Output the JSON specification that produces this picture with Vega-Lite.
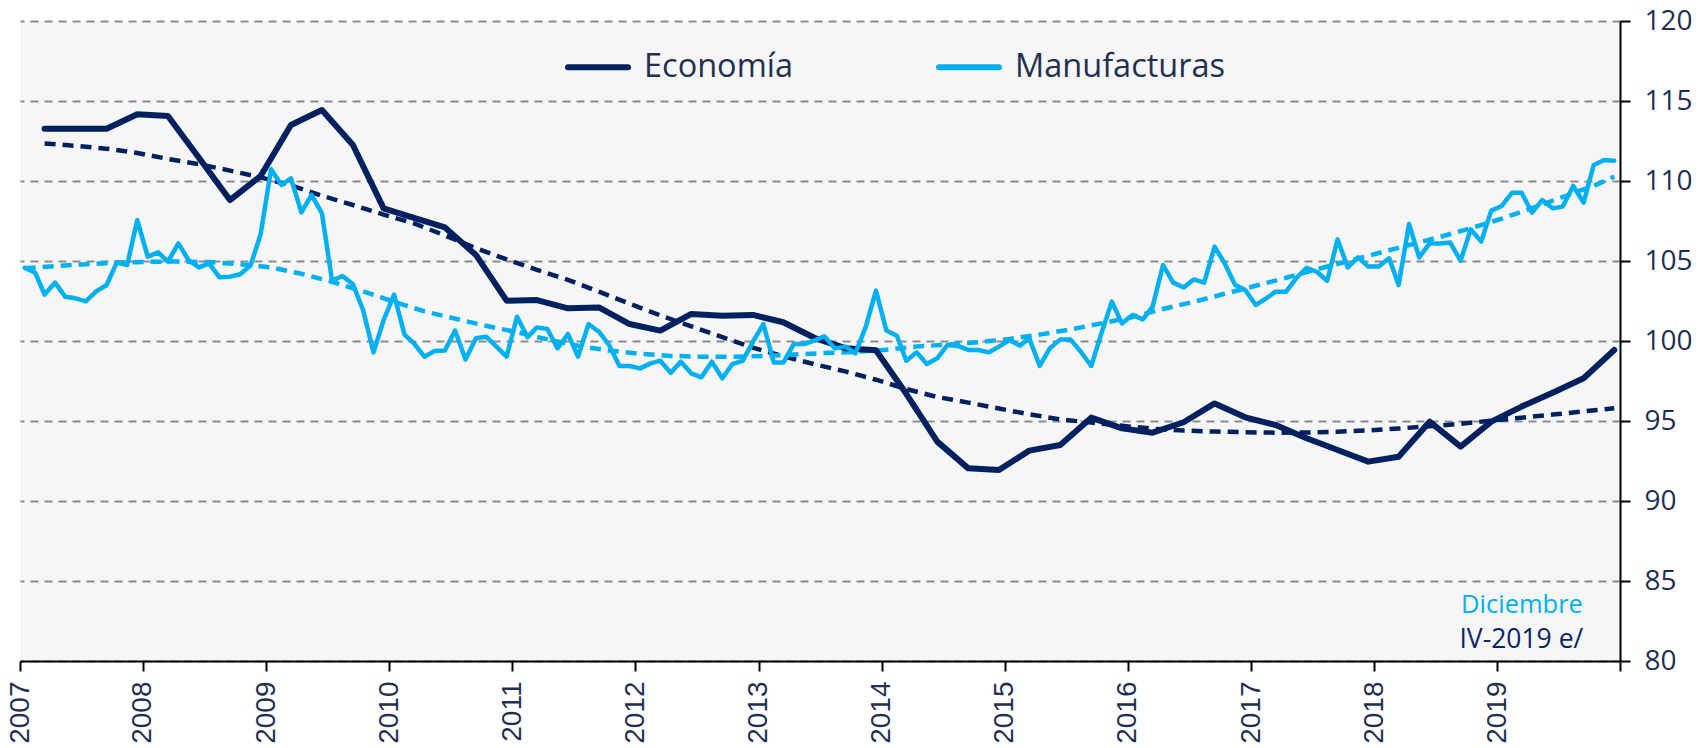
{
  "$schema": "https://vega.github.io/schema/vega-lite/v6.json",
  "width": 1600,
  "height": 640,
  "autosize": {"type": "none"},
  "padding": {"left": 20, "top": 21, "right": 84, "bottom": 87},
  "background": "white",
  "config": {"view": {"stroke": null, "fill": "#f6f6f6"}, "font": "Open Sans"},
  "datasets": {
    "economia": [
      {"fecha": "2007-03-15", "serie": "Economía", "valor": 113.27},
      {"fecha": "2007-06-15", "serie": "Economía", "valor": 113.27},
      {"fecha": "2007-09-15", "serie": "Economía", "valor": 113.27},
      {"fecha": "2007-12-15", "serie": "Economía", "valor": 114.17},
      {"fecha": "2008-03-15", "serie": "Economía", "valor": 114.06},
      {"fecha": "2008-06-15", "serie": "Economía", "valor": 111.45},
      {"fecha": "2008-09-15", "serie": "Economía", "valor": 108.81},
      {"fecha": "2008-12-15", "serie": "Economía", "valor": 110.31},
      {"fecha": "2009-03-15", "serie": "Economía", "valor": 113.5},
      {"fecha": "2009-06-15", "serie": "Economía", "valor": 114.44},
      {"fecha": "2009-09-15", "serie": "Economía", "valor": 112.25},
      {"fecha": "2009-12-15", "serie": "Economía", "valor": 108.29},
      {"fecha": "2010-03-15", "serie": "Economía", "valor": 107.7},
      {"fecha": "2010-06-15", "serie": "Economía", "valor": 107.1},
      {"fecha": "2010-09-15", "serie": "Economía", "valor": 105.38},
      {"fecha": "2010-12-15", "serie": "Economía", "valor": 102.52},
      {"fecha": "2011-03-15", "serie": "Economía", "valor": 102.56},
      {"fecha": "2011-06-15", "serie": "Economía", "valor": 102.04},
      {"fecha": "2011-09-15", "serie": "Economía", "valor": 102.1},
      {"fecha": "2011-12-15", "serie": "Economía", "valor": 101.06},
      {"fecha": "2012-03-15", "serie": "Economía", "valor": 100.65},
      {"fecha": "2012-06-15", "serie": "Economía", "valor": 101.69},
      {"fecha": "2012-09-15", "serie": "Economía", "valor": 101.58},
      {"fecha": "2012-12-15", "serie": "Economía", "valor": 101.63},
      {"fecha": "2013-03-15", "serie": "Economía", "valor": 101.17},
      {"fecha": "2013-06-15", "serie": "Economía", "valor": 100.2},
      {"fecha": "2013-09-15", "serie": "Economía", "valor": 99.55},
      {"fecha": "2013-12-15", "serie": "Economía", "valor": 99.42},
      {"fecha": "2014-03-15", "serie": "Economía", "valor": 96.7},
      {"fecha": "2014-06-15", "serie": "Economía", "valor": 93.71},
      {"fecha": "2014-09-15", "serie": "Economía", "valor": 92.04},
      {"fecha": "2014-12-15", "serie": "Economía", "valor": 91.94},
      {"fecha": "2015-03-15", "serie": "Economía", "valor": 93.15},
      {"fecha": "2015-06-15", "serie": "Economía", "valor": 93.5},
      {"fecha": "2015-09-15", "serie": "Economía", "valor": 95.21},
      {"fecha": "2015-12-15", "serie": "Economía", "valor": 94.54},
      {"fecha": "2016-03-15", "serie": "Economía", "valor": 94.27},
      {"fecha": "2016-06-15", "serie": "Economía", "valor": 94.92},
      {"fecha": "2016-09-15", "serie": "Economía", "valor": 96.1},
      {"fecha": "2016-12-15", "serie": "Economía", "valor": 95.23},
      {"fecha": "2017-03-15", "serie": "Economía", "valor": 94.75},
      {"fecha": "2017-06-15", "serie": "Economía", "valor": 93.92},
      {"fecha": "2017-09-15", "serie": "Economía", "valor": 93.19},
      {"fecha": "2017-12-15", "serie": "Economía", "valor": 92.46},
      {"fecha": "2018-03-15", "serie": "Economía", "valor": 92.77},
      {"fecha": "2018-06-15", "serie": "Economía", "valor": 94.96},
      {"fecha": "2018-09-15", "serie": "Economía", "valor": 93.4},
      {"fecha": "2018-12-15", "serie": "Economía", "valor": 94.96},
      {"fecha": "2019-03-15", "serie": "Economía", "valor": 95.9},
      {"fecha": "2019-06-15", "serie": "Economía", "valor": 96.77},
      {"fecha": "2019-09-15", "serie": "Economía", "valor": 97.67},
      {"fecha": "2019-12-15", "serie": "Economía", "valor": 99.44}
    ],
    "manufacturas": [
      {"fecha": "2007-01-15", "serie": "Manufacturas", "valor": 104.58},
      {"fecha": "2007-02-15", "serie": "Manufacturas", "valor": 104.27},
      {"fecha": "2007-03-15", "serie": "Manufacturas", "valor": 102.9},
      {"fecha": "2007-04-15", "serie": "Manufacturas", "valor": 103.65},
      {"fecha": "2007-05-15", "serie": "Manufacturas", "valor": 102.77},
      {"fecha": "2007-06-15", "serie": "Manufacturas", "valor": 102.67},
      {"fecha": "2007-07-15", "serie": "Manufacturas", "valor": 102.48},
      {"fecha": "2007-08-15", "serie": "Manufacturas", "valor": 103.1},
      {"fecha": "2007-09-15", "serie": "Manufacturas", "valor": 103.5},
      {"fecha": "2007-10-15", "serie": "Manufacturas", "valor": 104.9},
      {"fecha": "2007-11-15", "serie": "Manufacturas", "valor": 104.75},
      {"fecha": "2007-12-15", "serie": "Manufacturas", "valor": 107.56},
      {"fecha": "2008-01-15", "serie": "Manufacturas", "valor": 105.27},
      {"fecha": "2008-02-15", "serie": "Manufacturas", "valor": 105.54},
      {"fecha": "2008-03-15", "serie": "Manufacturas", "valor": 104.96},
      {"fecha": "2008-04-15", "serie": "Manufacturas", "valor": 106.1},
      {"fecha": "2008-05-15", "serie": "Manufacturas", "valor": 105.06},
      {"fecha": "2008-06-15", "serie": "Manufacturas", "valor": 104.6},
      {"fecha": "2008-07-15", "serie": "Manufacturas", "valor": 104.85},
      {"fecha": "2008-08-15", "serie": "Manufacturas", "valor": 103.98},
      {"fecha": "2008-09-15", "serie": "Manufacturas", "valor": 104.02},
      {"fecha": "2008-10-15", "serie": "Manufacturas", "valor": 104.17},
      {"fecha": "2008-11-15", "serie": "Manufacturas", "valor": 104.71},
      {"fecha": "2008-12-15", "serie": "Manufacturas", "valor": 106.67},
      {"fecha": "2009-01-15", "serie": "Manufacturas", "valor": 110.73},
      {"fecha": "2009-02-15", "serie": "Manufacturas", "valor": 109.75},
      {"fecha": "2009-03-15", "serie": "Manufacturas", "valor": 110.17},
      {"fecha": "2009-04-15", "serie": "Manufacturas", "valor": 108.04},
      {"fecha": "2009-05-15", "serie": "Manufacturas", "valor": 109.13},
      {"fecha": "2009-06-15", "serie": "Manufacturas", "valor": 107.98},
      {"fecha": "2009-07-15", "serie": "Manufacturas", "valor": 103.77},
      {"fecha": "2009-08-15", "serie": "Manufacturas", "valor": 104.06},
      {"fecha": "2009-09-15", "serie": "Manufacturas", "valor": 103.54},
      {"fecha": "2009-10-15", "serie": "Manufacturas", "valor": 101.94},
      {"fecha": "2009-11-15", "serie": "Manufacturas", "valor": 99.29},
      {"fecha": "2009-12-15", "serie": "Manufacturas", "valor": 101.31},
      {"fecha": "2010-01-15", "serie": "Manufacturas", "valor": 102.9},
      {"fecha": "2010-02-15", "serie": "Manufacturas", "valor": 100.4},
      {"fecha": "2010-03-15", "serie": "Manufacturas", "valor": 99.85},
      {"fecha": "2010-04-15", "serie": "Manufacturas", "valor": 99.02},
      {"fecha": "2010-05-15", "serie": "Manufacturas", "valor": 99.37},
      {"fecha": "2010-06-15", "serie": "Manufacturas", "valor": 99.4},
      {"fecha": "2010-07-15", "serie": "Manufacturas", "valor": 100.65},
      {"fecha": "2010-08-15", "serie": "Manufacturas", "valor": 98.85},
      {"fecha": "2010-09-15", "serie": "Manufacturas", "valor": 100.17},
      {"fecha": "2010-10-15", "serie": "Manufacturas", "valor": 100.27},
      {"fecha": "2010-11-15", "serie": "Manufacturas", "valor": 99.65},
      {"fecha": "2010-12-15", "serie": "Manufacturas", "valor": 99.02},
      {"fecha": "2011-01-15", "serie": "Manufacturas", "valor": 101.52},
      {"fecha": "2011-02-15", "serie": "Manufacturas", "valor": 100.23},
      {"fecha": "2011-03-15", "serie": "Manufacturas", "valor": 100.85},
      {"fecha": "2011-04-15", "serie": "Manufacturas", "valor": 100.75},
      {"fecha": "2011-05-15", "serie": "Manufacturas", "valor": 99.54},
      {"fecha": "2011-06-15", "serie": "Manufacturas", "valor": 100.44},
      {"fecha": "2011-07-15", "serie": "Manufacturas", "valor": 99.02},
      {"fecha": "2011-08-15", "serie": "Manufacturas", "valor": 101.06},
      {"fecha": "2011-09-15", "serie": "Manufacturas", "valor": 100.58},
      {"fecha": "2011-10-15", "serie": "Manufacturas", "valor": 99.75},
      {"fecha": "2011-11-15", "serie": "Manufacturas", "valor": 98.44},
      {"fecha": "2011-12-15", "serie": "Manufacturas", "valor": 98.44},
      {"fecha": "2012-01-15", "serie": "Manufacturas", "valor": 98.29},
      {"fecha": "2012-02-15", "serie": "Manufacturas", "valor": 98.6},
      {"fecha": "2012-03-15", "serie": "Manufacturas", "valor": 98.77},
      {"fecha": "2012-04-15", "serie": "Manufacturas", "valor": 98.02},
      {"fecha": "2012-05-15", "serie": "Manufacturas", "valor": 98.71},
      {"fecha": "2012-06-15", "serie": "Manufacturas", "valor": 97.98},
      {"fecha": "2012-07-15", "serie": "Manufacturas", "valor": 97.73},
      {"fecha": "2012-08-15", "serie": "Manufacturas", "valor": 98.71},
      {"fecha": "2012-09-15", "serie": "Manufacturas", "valor": 97.67},
      {"fecha": "2012-10-15", "serie": "Manufacturas", "valor": 98.56},
      {"fecha": "2012-11-15", "serie": "Manufacturas", "valor": 98.77},
      {"fecha": "2012-12-15", "serie": "Manufacturas", "valor": 99.96},
      {"fecha": "2013-01-15", "serie": "Manufacturas", "valor": 101.06},
      {"fecha": "2013-02-15", "serie": "Manufacturas", "valor": 98.65},
      {"fecha": "2013-03-15", "serie": "Manufacturas", "valor": 98.65},
      {"fecha": "2013-04-15", "serie": "Manufacturas", "valor": 99.81},
      {"fecha": "2013-05-15", "serie": "Manufacturas", "valor": 99.81},
      {"fecha": "2013-06-15", "serie": "Manufacturas", "valor": 100.02},
      {"fecha": "2013-07-15", "serie": "Manufacturas", "valor": 100.3},
      {"fecha": "2013-08-15", "serie": "Manufacturas", "valor": 99.54},
      {"fecha": "2013-09-15", "serie": "Manufacturas", "valor": 99.65},
      {"fecha": "2013-10-15", "serie": "Manufacturas", "valor": 99.23},
      {"fecha": "2013-11-15", "serie": "Manufacturas", "valor": 100.9},
      {"fecha": "2013-12-15", "serie": "Manufacturas", "valor": 103.15},
      {"fecha": "2014-01-15", "serie": "Manufacturas", "valor": 100.65},
      {"fecha": "2014-02-15", "serie": "Manufacturas", "valor": 100.33},
      {"fecha": "2014-03-15", "serie": "Manufacturas", "valor": 98.77},
      {"fecha": "2014-04-15", "serie": "Manufacturas", "valor": 99.29},
      {"fecha": "2014-05-15", "serie": "Manufacturas", "valor": 98.56},
      {"fecha": "2014-06-15", "serie": "Manufacturas", "valor": 98.92},
      {"fecha": "2014-07-15", "serie": "Manufacturas", "valor": 99.75},
      {"fecha": "2014-08-15", "serie": "Manufacturas", "valor": 99.69},
      {"fecha": "2014-09-15", "serie": "Manufacturas", "valor": 99.44},
      {"fecha": "2014-10-15", "serie": "Manufacturas", "valor": 99.44},
      {"fecha": "2014-11-15", "serie": "Manufacturas", "valor": 99.29},
      {"fecha": "2014-12-15", "serie": "Manufacturas", "valor": 99.65},
      {"fecha": "2015-01-15", "serie": "Manufacturas", "valor": 100.06},
      {"fecha": "2015-02-15", "serie": "Manufacturas", "valor": 99.71},
      {"fecha": "2015-03-15", "serie": "Manufacturas", "valor": 100.17},
      {"fecha": "2015-04-15", "serie": "Manufacturas", "valor": 98.44},
      {"fecha": "2015-05-15", "serie": "Manufacturas", "valor": 99.54},
      {"fecha": "2015-06-15", "serie": "Manufacturas", "valor": 100.1},
      {"fecha": "2015-07-15", "serie": "Manufacturas", "valor": 100.1},
      {"fecha": "2015-08-15", "serie": "Manufacturas", "valor": 99.33},
      {"fecha": "2015-09-15", "serie": "Manufacturas", "valor": 98.44},
      {"fecha": "2015-10-15", "serie": "Manufacturas", "valor": 100.48},
      {"fecha": "2015-11-15", "serie": "Manufacturas", "valor": 102.46},
      {"fecha": "2015-12-15", "serie": "Manufacturas", "valor": 101.1},
      {"fecha": "2016-01-15", "serie": "Manufacturas", "valor": 101.63},
      {"fecha": "2016-02-15", "serie": "Manufacturas", "valor": 101.35},
      {"fecha": "2016-03-15", "serie": "Manufacturas", "valor": 102.15},
      {"fecha": "2016-04-15", "serie": "Manufacturas", "valor": 104.75},
      {"fecha": "2016-05-15", "serie": "Manufacturas", "valor": 103.65},
      {"fecha": "2016-06-15", "serie": "Manufacturas", "valor": 103.35},
      {"fecha": "2016-07-15", "serie": "Manufacturas", "valor": 103.85},
      {"fecha": "2016-08-15", "serie": "Manufacturas", "valor": 103.65},
      {"fecha": "2016-09-15", "serie": "Manufacturas", "valor": 105.9},
      {"fecha": "2016-10-15", "serie": "Manufacturas", "valor": 104.85},
      {"fecha": "2016-11-15", "serie": "Manufacturas", "valor": 103.5},
      {"fecha": "2016-12-15", "serie": "Manufacturas", "valor": 103.19},
      {"fecha": "2017-01-15", "serie": "Manufacturas", "valor": 102.25},
      {"fecha": "2017-02-15", "serie": "Manufacturas", "valor": 102.67},
      {"fecha": "2017-03-15", "serie": "Manufacturas", "valor": 103.08},
      {"fecha": "2017-04-15", "serie": "Manufacturas", "valor": 103.08},
      {"fecha": "2017-05-15", "serie": "Manufacturas", "valor": 103.92},
      {"fecha": "2017-06-15", "serie": "Manufacturas", "valor": 104.58},
      {"fecha": "2017-07-15", "serie": "Manufacturas", "valor": 104.33},
      {"fecha": "2017-08-15", "serie": "Manufacturas", "valor": 103.77},
      {"fecha": "2017-09-15", "serie": "Manufacturas", "valor": 106.35},
      {"fecha": "2017-10-15", "serie": "Manufacturas", "valor": 104.6},
      {"fecha": "2017-11-15", "serie": "Manufacturas", "valor": 105.23},
      {"fecha": "2017-12-15", "serie": "Manufacturas", "valor": 104.65},
      {"fecha": "2018-01-15", "serie": "Manufacturas", "valor": 104.65},
      {"fecha": "2018-02-15", "serie": "Manufacturas", "valor": 105.17},
      {"fecha": "2018-03-15", "serie": "Manufacturas", "valor": 103.5},
      {"fecha": "2018-04-15", "serie": "Manufacturas", "valor": 107.31},
      {"fecha": "2018-05-15", "serie": "Manufacturas", "valor": 105.23},
      {"fecha": "2018-06-15", "serie": "Manufacturas", "valor": 106.1},
      {"fecha": "2018-07-15", "serie": "Manufacturas", "valor": 106.1},
      {"fecha": "2018-08-15", "serie": "Manufacturas", "valor": 106.15},
      {"fecha": "2018-09-15", "serie": "Manufacturas", "valor": 105.02},
      {"fecha": "2018-10-15", "serie": "Manufacturas", "valor": 106.98},
      {"fecha": "2018-11-15", "serie": "Manufacturas", "valor": 106.21},
      {"fecha": "2018-12-15", "serie": "Manufacturas", "valor": 108.15},
      {"fecha": "2019-01-15", "serie": "Manufacturas", "valor": 108.44},
      {"fecha": "2019-02-15", "serie": "Manufacturas", "valor": 109.27},
      {"fecha": "2019-03-15", "serie": "Manufacturas", "valor": 109.27},
      {"fecha": "2019-04-15", "serie": "Manufacturas", "valor": 108.02},
      {"fecha": "2019-05-15", "serie": "Manufacturas", "valor": 108.81},
      {"fecha": "2019-06-15", "serie": "Manufacturas", "valor": 108.29},
      {"fecha": "2019-07-15", "serie": "Manufacturas", "valor": 108.4},
      {"fecha": "2019-08-15", "serie": "Manufacturas", "valor": 109.69},
      {"fecha": "2019-09-15", "serie": "Manufacturas", "valor": 108.65},
      {"fecha": "2019-10-15", "serie": "Manufacturas", "valor": 111.0},
      {"fecha": "2019-11-15", "serie": "Manufacturas", "valor": 111.31},
      {"fecha": "2019-12-15", "serie": "Manufacturas", "valor": 111.27}
    ],
    "tendencias": [
      {"fecha": "2007-03-15", "serie": "Economía", "valor": 112.35},
      {"fecha": "2007-06-15", "serie": "Economía", "valor": 112.2},
      {"fecha": "2007-09-15", "serie": "Economía", "valor": 112.02},
      {"fecha": "2007-12-15", "serie": "Economía", "valor": 111.75},
      {"fecha": "2008-03-15", "serie": "Economía", "valor": 111.38},
      {"fecha": "2008-06-15", "serie": "Economía", "valor": 111.05},
      {"fecha": "2008-09-15", "serie": "Economía", "valor": 110.65},
      {"fecha": "2008-12-15", "serie": "Economía", "valor": 110.23},
      {"fecha": "2009-03-15", "serie": "Economía", "valor": 109.72},
      {"fecha": "2009-06-15", "serie": "Economía", "valor": 109.08},
      {"fecha": "2009-09-15", "serie": "Economía", "valor": 108.5},
      {"fecha": "2009-12-15", "serie": "Economía", "valor": 107.9},
      {"fecha": "2010-03-15", "serie": "Economía", "valor": 107.35},
      {"fecha": "2010-06-15", "serie": "Economía", "valor": 106.6},
      {"fecha": "2010-09-15", "serie": "Economía", "valor": 105.8},
      {"fecha": "2010-12-15", "serie": "Economía", "valor": 105.1},
      {"fecha": "2011-03-15", "serie": "Economía", "valor": 104.45},
      {"fecha": "2011-06-15", "serie": "Economía", "valor": 103.82},
      {"fecha": "2011-09-15", "serie": "Economía", "valor": 103.08},
      {"fecha": "2011-12-15", "serie": "Economía", "valor": 102.33},
      {"fecha": "2012-03-15", "serie": "Economía", "valor": 101.6},
      {"fecha": "2012-06-15", "serie": "Economía", "valor": 100.92},
      {"fecha": "2012-09-15", "serie": "Economía", "valor": 100.24},
      {"fecha": "2012-12-15", "serie": "Economía", "valor": 99.58},
      {"fecha": "2013-03-15", "serie": "Economía", "valor": 99.05},
      {"fecha": "2013-06-15", "serie": "Economía", "valor": 98.55},
      {"fecha": "2013-09-15", "serie": "Economía", "valor": 98.1},
      {"fecha": "2013-12-15", "serie": "Economía", "valor": 97.58},
      {"fecha": "2014-03-15", "serie": "Economía", "valor": 97.0},
      {"fecha": "2014-06-15", "serie": "Economía", "valor": 96.5},
      {"fecha": "2014-09-15", "serie": "Economía", "valor": 96.15},
      {"fecha": "2014-12-15", "serie": "Economía", "valor": 95.78},
      {"fecha": "2015-03-15", "serie": "Economía", "valor": 95.42},
      {"fecha": "2015-06-15", "serie": "Economía", "valor": 95.1},
      {"fecha": "2015-09-15", "serie": "Economía", "valor": 94.9},
      {"fecha": "2015-12-15", "serie": "Economía", "valor": 94.7},
      {"fecha": "2016-03-15", "serie": "Economía", "valor": 94.52},
      {"fecha": "2016-06-15", "serie": "Economía", "valor": 94.4},
      {"fecha": "2016-09-15", "serie": "Economía", "valor": 94.34},
      {"fecha": "2016-12-15", "serie": "Economía", "valor": 94.3},
      {"fecha": "2017-03-15", "serie": "Economía", "valor": 94.27},
      {"fecha": "2017-06-15", "serie": "Economía", "valor": 94.28},
      {"fecha": "2017-09-15", "serie": "Economía", "valor": 94.33},
      {"fecha": "2017-12-15", "serie": "Economía", "valor": 94.41},
      {"fecha": "2018-03-15", "serie": "Economía", "valor": 94.53},
      {"fecha": "2018-06-15", "serie": "Economía", "valor": 94.67},
      {"fecha": "2018-09-15", "serie": "Economía", "valor": 94.83},
      {"fecha": "2018-12-15", "serie": "Economía", "valor": 95.02},
      {"fecha": "2019-03-15", "serie": "Economía", "valor": 95.21},
      {"fecha": "2019-06-15", "serie": "Economía", "valor": 95.4},
      {"fecha": "2019-09-15", "serie": "Economía", "valor": 95.6},
      {"fecha": "2019-12-15", "serie": "Economía", "valor": 95.8},
      {"fecha": "2007-01-15", "serie": "Manufacturas", "valor": 104.55},
      {"fecha": "2007-04-15", "serie": "Manufacturas", "valor": 104.68},
      {"fecha": "2007-07-15", "serie": "Manufacturas", "valor": 104.8},
      {"fecha": "2007-10-15", "serie": "Manufacturas", "valor": 104.9},
      {"fecha": "2008-01-15", "serie": "Manufacturas", "valor": 104.95},
      {"fecha": "2008-04-15", "serie": "Manufacturas", "valor": 104.97},
      {"fecha": "2008-07-15", "serie": "Manufacturas", "valor": 104.93},
      {"fecha": "2008-10-15", "serie": "Manufacturas", "valor": 104.8},
      {"fecha": "2009-01-15", "serie": "Manufacturas", "valor": 104.6},
      {"fecha": "2009-04-15", "serie": "Manufacturas", "valor": 104.2},
      {"fecha": "2009-07-15", "serie": "Manufacturas", "valor": 103.7},
      {"fecha": "2009-10-15", "serie": "Manufacturas", "valor": 103.1},
      {"fecha": "2010-01-15", "serie": "Manufacturas", "valor": 102.45},
      {"fecha": "2010-04-15", "serie": "Manufacturas", "valor": 101.85},
      {"fecha": "2010-07-15", "serie": "Manufacturas", "valor": 101.4},
      {"fecha": "2010-10-15", "serie": "Manufacturas", "valor": 100.95},
      {"fecha": "2011-01-15", "serie": "Manufacturas", "valor": 100.55},
      {"fecha": "2011-04-15", "serie": "Manufacturas", "valor": 100.1},
      {"fecha": "2011-07-15", "serie": "Manufacturas", "valor": 99.7},
      {"fecha": "2011-10-15", "serie": "Manufacturas", "valor": 99.4},
      {"fecha": "2012-01-15", "serie": "Manufacturas", "valor": 99.2},
      {"fecha": "2012-04-15", "serie": "Manufacturas", "valor": 99.07},
      {"fecha": "2012-07-15", "serie": "Manufacturas", "valor": 99.02},
      {"fecha": "2012-10-15", "serie": "Manufacturas", "valor": 99.02},
      {"fecha": "2013-01-15", "serie": "Manufacturas", "valor": 99.06},
      {"fecha": "2013-04-15", "serie": "Manufacturas", "valor": 99.15},
      {"fecha": "2013-07-15", "serie": "Manufacturas", "valor": 99.25},
      {"fecha": "2013-10-15", "serie": "Manufacturas", "valor": 99.32},
      {"fecha": "2014-01-15", "serie": "Manufacturas", "valor": 99.45},
      {"fecha": "2014-04-15", "serie": "Manufacturas", "valor": 99.65},
      {"fecha": "2014-07-15", "serie": "Manufacturas", "valor": 99.78},
      {"fecha": "2014-10-15", "serie": "Manufacturas", "valor": 99.92},
      {"fecha": "2015-01-15", "serie": "Manufacturas", "valor": 100.13},
      {"fecha": "2015-04-15", "serie": "Manufacturas", "valor": 100.4},
      {"fecha": "2015-07-15", "serie": "Manufacturas", "valor": 100.72},
      {"fecha": "2015-10-15", "serie": "Manufacturas", "valor": 101.1},
      {"fecha": "2016-01-15", "serie": "Manufacturas", "valor": 101.5},
      {"fecha": "2016-04-15", "serie": "Manufacturas", "valor": 102.0},
      {"fecha": "2016-07-15", "serie": "Manufacturas", "valor": 102.45},
      {"fecha": "2016-10-15", "serie": "Manufacturas", "valor": 102.95},
      {"fecha": "2017-01-15", "serie": "Manufacturas", "valor": 103.45},
      {"fecha": "2017-04-15", "serie": "Manufacturas", "valor": 103.95},
      {"fecha": "2017-07-15", "serie": "Manufacturas", "valor": 104.48},
      {"fecha": "2017-10-15", "serie": "Manufacturas", "valor": 104.98},
      {"fecha": "2018-01-15", "serie": "Manufacturas", "valor": 105.5},
      {"fecha": "2018-04-15", "serie": "Manufacturas", "valor": 106.0},
      {"fecha": "2018-07-15", "serie": "Manufacturas", "valor": 106.5},
      {"fecha": "2018-10-15", "serie": "Manufacturas", "valor": 107.05},
      {"fecha": "2019-01-15", "serie": "Manufacturas", "valor": 107.65},
      {"fecha": "2019-04-15", "serie": "Manufacturas", "valor": 108.3},
      {"fecha": "2019-07-15", "serie": "Manufacturas", "valor": 109.0},
      {"fecha": "2019-10-15", "serie": "Manufacturas", "valor": 109.7},
      {"fecha": "2019-12-15", "serie": "Manufacturas", "valor": 110.27}
    ]
  },
  "resolve": {"scale": {"color": "independent"}},
  "layer": [
    {
      "data": {"name": "tendencias"},
      "mark": {"type": "line", "strokeWidth": 4.5, "strokeDash": [11, 7]},
      "encoding": {
        "x": {
          "field": "fecha", "type": "temporal",
          "scale": {"type": "utc", "domain": [{"year": 2007, "month": 1, "date": 1, "utc": true}, {"year": 2020, "month": 1, "date": 1, "utc": true}]},
          "axis": {
            "values": [
              {"year": 2007, "month": 1, "date": 1, "utc": true}, {"year": 2008, "month": 1, "date": 1, "utc": true},
              {"year": 2009, "month": 1, "date": 1, "utc": true}, {"year": 2010, "month": 1, "date": 1, "utc": true},
              {"year": 2011, "month": 1, "date": 1, "utc": true}, {"year": 2012, "month": 1, "date": 1, "utc": true},
              {"year": 2013, "month": 1, "date": 1, "utc": true}, {"year": 2014, "month": 1, "date": 1, "utc": true},
              {"year": 2015, "month": 1, "date": 1, "utc": true}, {"year": 2016, "month": 1, "date": 1, "utc": true},
              {"year": 2017, "month": 1, "date": 1, "utc": true}, {"year": 2018, "month": 1, "date": 1, "utc": true},
              {"year": 2019, "month": 1, "date": 1, "utc": true}, {"year": 2020, "month": 1, "date": 1, "utc": true}
            ],
            "labelExpr": "utcyear(datum.value) == 2020 ? '' : '' + utcyear(datum.value)",
            "labelAngle": -90,
            "labelFont": "Liberation Sans",
            "labelFontSize": 28,
            "labelColor": "#1F3052",
            "labelPadding": 10,
            "labelOverlap": false,
            "labelFlush": false,
            "domainColor": "#000000",
            "domainWidth": 2,
            "tickColor": "#000000",
            "tickWidth": 2,
            "tickSize": 10,
            "grid": false,
            "title": null
          }
        },
        "y": {
          "field": "valor", "type": "quantitative",
          "scale": {"domain": [80, 120], "nice": false, "zero": false},
          "axis": {
            "orient": "right",
            "values": [80, 85, 90, 95, 100, 105, 110, 115, 120],
            "grid": true,
            "gridColor": "#8c8c8c",
            "gridDash": [8, 6],
            "gridWidth": 1.8,
            "domainColor": "#000000",
            "domainWidth": 2,
            "tickColor": "#000000",
            "tickWidth": 2,
            "tickSize": 10,
            "labelFont": "Open Sans",
            "labelFontSize": 28,
            "labelColor": "#1F3052",
            "labelPadding": 14,
            "labelFlush": false,
            "title": null
          }
        },
        "color": {
          "field": "serie", "type": "nominal",
          "scale": {"domain": ["Economía", "Manufacturas"], "range": ["#002060", "#00B0F0"]},
          "legend": null
        }
      }
    },
    {
      "layer": [
        {
          "data": {"name": "economia"},
          "mark": {"type": "line", "strokeWidth": 6, "strokeJoin": "round", "strokeCap": "round"},
          "encoding": {
            "x": {"field": "fecha", "type": "temporal"},
            "y": {"field": "valor", "type": "quantitative"},
            "color": {
              "field": "serie", "type": "nominal",
              "scale": {"domain": ["Economía", "Manufacturas"], "range": ["#002060", "#00B0F0"]},
              "legend": {
                "orient": "none",
                "legendX": 545,
                "legendY": 13,
                "direction": "horizontal",
                "title": null,
                "padding": 0,
                "symbolType": "stroke",
                "symbolSize": 3600,
                "symbolStrokeWidth": 6,
                "labelFont": "Open Sans",
                "labelFontSize": 32.5,
                "labelColor": "#1F3052",
                "labelOffset": 13,
                "labelLimit": 0,
                "columnPadding": 133,
                "encode": {"symbols": {"update": {"strokeCap": {"value": "round"}, "strokeWidth": {"value": 6}, "strokeDash": {"value": []}}}}
              }
            }
          }
        },
        {
          "data": {"name": "manufacturas"},
          "mark": {"type": "line", "strokeWidth": 4.5, "strokeJoin": "round", "strokeCap": "round"},
          "encoding": {
            "x": {"field": "fecha", "type": "temporal"},
            "y": {"field": "valor", "type": "quantitative"},
            "color": {"field": "serie", "type": "nominal"}
          }
        }
      ]
    },
    {
      "data": {"values": [{}]},
      "mark": {"type": "text", "align": "right", "baseline": "alphabetic", "font": "Open Sans", "fontSize": 25.5, "color": "#00B0F0"},
      "encoding": {
        "x": {"datum": {"year": 2019, "month": 9, "date": 13, "utc": true}, "type": "temporal"},
        "y": {"datum": 83.0, "type": "quantitative"},
        "text": {"value": "Diciembre"}
      }
    },
    {
      "data": {"values": [{}]},
      "mark": {"type": "text", "align": "right", "baseline": "alphabetic", "font": "Open Sans", "fontSize": 26.5, "color": "#0B2566"},
      "encoding": {
        "x": {"datum": {"year": 2019, "month": 9, "date": 14, "utc": true}, "type": "temporal"},
        "y": {"datum": 80.8, "type": "quantitative"},
        "text": {"value": "IV-2019 e/"}
      }
    }
  ]
}
